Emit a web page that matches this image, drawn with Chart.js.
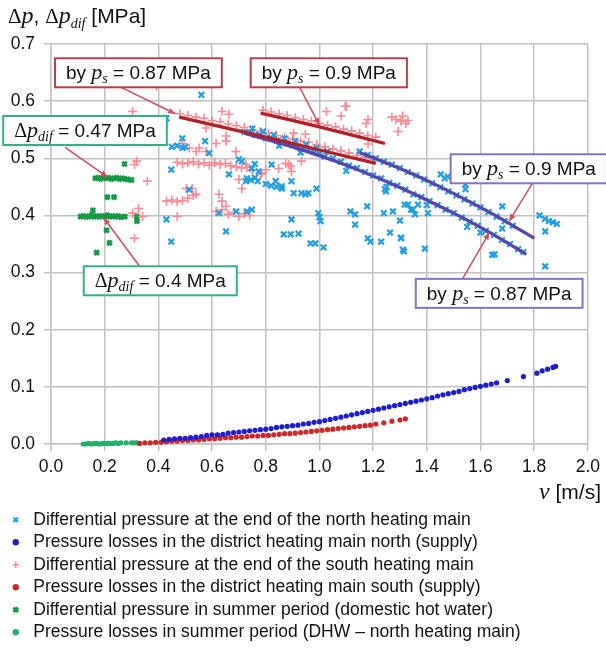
<!DOCTYPE html>
<html>
<head>
<meta charset="utf-8">
<script src="https://cdn.jsdelivr.net/npm/chart.js@4.4.1/dist/chart.umd.min.js"></script>
<style>
  html, body { margin: 0; padding: 0; background: #fff; }
  #box { width: 606px; height: 657px; }
</style>
</head>
<body>
<div id="box"><canvas id="grafico" width="606" height="657"></canvas></div>
<script>
// Datos: [v (m/s), dp (MPa)]
const xTicks = [0, 0.2, 0.4, 0.6, 0.8, 1.0, 1.2, 1.4, 1.6, 1.8, 2.0];
const yTicks = [0, 0.1, 0.2, 0.3, 0.4, 0.5, 0.6, 0.7];

const seriesNames = [
  'Differential pressure at the end of the north heating main',
  'Pressure losses in the district heating main north (supply)',
  'Differential pressure at the end of the south heating main',
  'Pressure losses in the district heating main south (supply)',
  'Differential pressure in summer period (domestic hot water)',
  'Pressure losses in summer period (DHW \u2013 north heating main)'
];

const northDp = [
  [0.56,0.611],[0.43,0.57],[0.489,0.535],[0.574,0.53],[0.45,0.52],[0.47,0.522],[0.49,0.518],[0.50,0.52],
  [0.589,0.509],[0.448,0.48],[0.70,0.498],[0.759,0.49],[0.663,0.472],[0.73,0.465],[0.745,0.462],[0.76,0.466],
  [0.77,0.46],[0.80,0.455],[0.82,0.452],[0.84,0.45],[0.86,0.447],[0.904,0.439],[0.515,0.445],[0.626,0.404],
  [0.69,0.407],[0.73,0.407],[0.748,0.41],[0.43,0.393],[0.652,0.372],[0.448,0.354],[0.896,0.393],[0.867,0.367],
  [0.893,0.367],[0.711,0.495],[0.748,0.482],[0.774,0.477],[0.822,0.489],[0.726,0.46],[0.837,0.46],[0.859,0.451],
  [0.896,0.46],[0.933,0.439],[0.959,0.439],[0.989,0.447],[0.948,0.437],[0.922,0.368],[0.967,0.351],[0.985,0.351],
  [1.015,0.344],[0.996,0.404],[1.0,0.397],[1.004,0.39],[1.115,0.407],[1.133,0.402],[1.133,0.384],[1.178,0.416],
  [1.18,0.36],[1.19,0.354],[1.24,0.404],[1.274,0.407],[1.3,0.391],[1.23,0.354],[1.263,0.37],[1.304,0.361],
  [1.315,0.337],[1.248,0.442],[1.318,0.419],[1.341,0.41],[1.244,0.446],[1.467,0.465],[1.544,0.454],[1.544,0.446],
  [1.33,0.419],[1.348,0.41],[1.356,0.402],[1.367,0.419],[1.304,0.36],[1.311,0.34],[1.393,0.342],[1.404,0.404],
  [1.681,0.416],[1.681,0.377],[1.652,0.332],[1.82,0.40],[1.84,0.394],[1.855,0.39],[1.87,0.388],[1.885,0.385],
  [1.841,0.372],[1.841,0.311],[1.644,0.331],[1.452,0.472],[1.478,0.468],
  // banda inferior
  [0.72,0.546],[0.74,0.545],[0.76,0.541],[0.78,0.54],[0.80,0.535],[0.82,0.536],[0.84,0.531],[0.86,0.53],
  [0.88,0.526],[0.90,0.523],[0.92,0.52],[0.94,0.518],[0.96,0.514],[0.98,0.511],[1.00,0.508],[1.02,0.503],
  [1.05,0.5],[1.08,0.494],[1.11,0.487],[1.14,0.483],[1.17,0.476],[1.20,0.47],[1.23,0.465],[1.26,0.457],
  [1.29,0.452],[1.32,0.445],[1.35,0.437],[1.38,0.432],[1.41,0.425],[1.44,0.418],[1.47,0.41],[1.50,0.404],
  [1.53,0.396],[1.56,0.389],[1.59,0.382],[1.62,0.373],[1.65,0.366],[1.68,0.357],[1.71,0.35],[1.74,0.341],
  [1.76,0.336],[0.75,0.552],[0.79,0.547],[0.83,0.541],[0.87,0.535],[0.91,0.53],[0.95,0.524],[0.99,0.518],
  [1.03,0.512],[0.85,0.522],[0.93,0.51],[1.1,0.478],[1.25,0.45],[1.4,0.418],[1.55,0.38],[1.6,0.37],
  // banda superior
  [1.15,0.512],[1.18,0.506],[1.21,0.5],[1.24,0.494],[1.27,0.489],[1.3,0.483],[1.33,0.476],[1.36,0.47],
  [1.39,0.463],[1.42,0.456],[1.45,0.449],[1.48,0.442],[1.51,0.435],[1.54,0.428],[1.57,0.421],[1.6,0.414],
  [1.63,0.406],[1.66,0.398],[1.69,0.39],[1.72,0.382]
];

const northLoss = [
  [0.42,0.007],[0.44,0.008],[0.46,0.009],[0.48,0.010],[0.50,0.010],[0.52,0.011],[0.54,0.012],[0.56,0.013],
  [0.58,0.015],[0.60,0.016],[0.62,0.016],[0.64,0.017],[0.66,0.019],[0.68,0.020],[0.70,0.021],[0.72,0.022],
  [0.74,0.023],[0.76,0.024],[0.78,0.025],[0.80,0.026],[0.82,0.027],[0.84,0.029],[0.86,0.030],[0.88,0.031],
  [0.90,0.032],[0.92,0.033],[0.94,0.035],[0.96,0.036],[0.98,0.038],[1.00,0.039],[1.02,0.041],[1.04,0.043],
  [1.06,0.045],[1.08,0.047],[1.10,0.049],[1.12,0.051],[1.14,0.053],[1.16,0.055],[1.18,0.057],[1.20,0.059],
  [1.22,0.061],[1.24,0.063],[1.26,0.065],[1.28,0.067],[1.30,0.069],[1.32,0.071],[1.34,0.073],[1.36,0.075],
  [1.38,0.077],[1.40,0.079],[1.42,0.081],[1.44,0.084],[1.46,0.086],[1.48,0.088],[1.50,0.090],[1.52,0.092],
  [1.54,0.095],[1.56,0.097],[1.58,0.099],[1.60,0.101],[1.62,0.103],[1.64,0.105],[1.66,0.107],[1.70,0.111],
  [1.76,0.118],[1.81,0.124],[1.83,0.128],[1.85,0.131],[1.87,0.134],[1.88,0.136]
];

const southDp = [
  [0.393,0.626],[0.304,0.582],[0.637,0.582],[0.663,0.577],[0.652,0.539],[0.652,0.53],[0.489,0.526],[0.552,0.518],
  [0.578,0.512],[0.515,0.518],[0.541,0.512],[0.615,0.526],[0.578,0.553],[0.689,0.512],
  [0.47,0.493],[0.49,0.49],[0.51,0.492],[0.53,0.494],[0.55,0.49],[0.57,0.492],[0.59,0.488],[0.61,0.492],
  [0.63,0.489],[0.65,0.491],[0.67,0.487],[0.69,0.485],[0.71,0.483],[0.73,0.484],[0.75,0.48],
  [0.311,0.489],[0.319,0.495],[0.359,0.46],[0.70,0.463],[0.711,0.447],[0.781,0.472],[0.80,0.48],[0.848,0.482],
  [0.885,0.489],[0.504,0.447],[0.526,0.447],
  [0.43,0.425],[0.45,0.427],[0.47,0.424],[0.49,0.426],[0.51,0.43],[0.53,0.435],[0.54,0.437],[0.637,0.425],[0.626,0.437],
  [0.615,0.407],[0.637,0.41],[0.652,0.416],[0.66,0.402],[0.68,0.405],[0.70,0.398],[0.72,0.403],[0.74,0.4],
  [0.304,0.404],[0.326,0.412],[0.341,0.398],[0.47,0.398],[0.311,0.36],
  [1.096,0.591],[1.026,0.582],[1.081,0.574],[1.1,0.591],[1.174,0.561],[1.181,0.568],[1.304,0.565],[1.322,0.561],
  [1.293,0.547],[1.285,0.568],[1.27,0.572],[1.31,0.574],[1.33,0.566],[1.181,0.525],[0.948,0.542],[0.904,0.544],
  [0.893,0.486],[0.896,0.477],[0.933,0.495],[0.874,0.491],[0.785,0.474],[0.726,0.489],
  // junto a la recta 0.87
  [0.48,0.578],[0.51,0.575],[0.54,0.572],[0.57,0.57],[0.6,0.566],[0.63,0.564],[0.66,0.56],[0.69,0.557],
  [0.72,0.554],[0.75,0.55],[0.78,0.547],[0.81,0.544],[0.84,0.54],[0.87,0.537],[0.9,0.534],[0.93,0.53],
  [0.96,0.528],[0.99,0.524],[1.02,0.52],[1.05,0.516],[1.08,0.513],[1.11,0.509],[1.14,0.505],[1.17,0.502],[1.2,0.498],
  // junto a la recta 0.9
  [0.79,0.584],[0.82,0.581],[0.85,0.578],[0.88,0.575],[0.91,0.571],[0.94,0.568],[0.97,0.565],[1.0,0.561],
  [1.03,0.558],[1.06,0.555],[1.09,0.551],[1.12,0.548],[1.15,0.544],[1.18,0.54],[1.21,0.537]
];

const southLoss = [
  [0.33,0.001],[0.35,0.002],[0.37,0.002],[0.39,0.003],[0.41,0.003],[0.43,0.004],[0.45,0.005],[0.47,0.005],
  [0.49,0.006],[0.51,0.006],[0.53,0.007],[0.55,0.007],[0.57,0.008],[0.59,0.009],[0.61,0.009],[0.63,0.010],
  [0.65,0.011],[0.67,0.011],[0.69,0.012],[0.71,0.012],[0.73,0.013],[0.75,0.014],[0.77,0.014],[0.79,0.015],
  [0.81,0.015],[0.83,0.016],[0.85,0.017],[0.87,0.018],[0.89,0.018],[0.91,0.019],[0.93,0.020],[0.95,0.021],
  [0.97,0.022],[0.99,0.023],[1.01,0.024],[1.03,0.025],[1.05,0.026],[1.07,0.027],[1.09,0.028],[1.11,0.029],
  [1.13,0.030],[1.15,0.031],[1.17,0.032],[1.19,0.033],[1.21,0.035],[1.24,0.037],[1.27,0.040],[1.30,0.042],[1.32,0.044]
];

const summerDp = [
  [0.165,0.465],[0.175,0.466],[0.185,0.464],[0.195,0.466],[0.205,0.465],[0.215,0.466],[0.225,0.464],[0.235,0.465],
  [0.245,0.466],[0.255,0.464],[0.265,0.465],[0.275,0.464],[0.285,0.463],[0.3,0.462],[0.274,0.49],[0.21,0.432],[0.235,0.432],
  [0.11,0.398],[0.12,0.399],[0.13,0.398],[0.14,0.398],[0.15,0.4],[0.16,0.398],[0.17,0.399],[0.18,0.398],
  [0.19,0.399],[0.2,0.398],[0.21,0.4],[0.22,0.398],[0.23,0.399],[0.24,0.398],[0.25,0.399],[0.26,0.397],
  [0.275,0.398],[0.156,0.409],[0.32,0.39],[0.32,0.398],[0.207,0.374],[0.218,0.352],[0.17,0.335]
];

const summerLoss = [
  [0.12,0.0],[0.13,0.0],[0.14,0.001],[0.15,0.0],[0.16,0.001],[0.17,0.001],[0.18,0.0],[0.19,0.001],
  [0.2,0.001],[0.21,0.001],[0.22,0.001],[0.23,0.001],[0.24,0.002],[0.25,0.001],[0.26,0.002],[0.28,0.002],
  [0.3,0.002],[0.31,0.002],[0.32,0.002]
];

// rectas de ajuste
const lineSouth087 = [[0.478,0.572],[0.8,0.537],[1.21,0.491]];
const lineSouth09 = [[0.781,0.579],[1.0,0.555],[1.244,0.526]];
const lineNorth087 = [[0.72,0.544],[0.9,0.52],[1.1,0.488],[1.3,0.449],[1.5,0.404],[1.65,0.366],[1.77,0.332]];
const lineNorth09 = [[1.15,0.51],[1.3,0.482],[1.45,0.45],[1.6,0.414],[1.7,0.388],[1.8,0.36]];

// Fuentes
const SANS = '"Liberation Sans", Arial, sans-serif';
const SERIF = '"Liberation Serif", "Times New Roman", serif';

// Etiquetas: [x, y esquina sup izq (datos), color borde, tipo, valor]
const cajas = [
  [0.015, 0.675, '#b5404c', 'ps', '0.87'],
  [0.744, 0.675, '#b5404c', 'ps', '0.9'],
  [-0.178, 0.574, '#2fb384', 'dif', '0.47'],
  [0.122, 0.311, '#2fb384', 'dif', '0.4'],
  [1.489, 0.507, '#8474c8', 'ps', '0.9'],
  [1.359, 0.289, '#8474c8', 'ps', '0.87']
];
// Flechas: desde (x1,y1) hasta (x2,y2)
const flechas = [
  [0.244, 0.628, 0.463, 0.578],
  [0.922, 0.628, 1.0, 0.558],
  [0.052, 0.519, 0.211, 0.467],
  [0.33, 0.311, 0.196, 0.396],
  [1.793, 0.456, 1.707, 0.39],
  [1.533, 0.289, 1.633, 0.37]
];

function partes(tipo, valor) {
  if (tipo === 'ps') {
    return [
      {t: 'by ', f: '19px ' + SANS},
      {t: 'p', f: 'italic 22px ' + SERIF},
      {t: 's', f: 'italic 14px ' + SERIF, dy: 4},
      {t: ' = ' + valor + ' MPa', f: '19px ' + SANS}
    ];
  }
  return [
    {t: '\u0394', f: '20px ' + SERIF},
    {t: 'p', f: 'italic 22px ' + SERIF},
    {t: 'dif', f: 'italic 14px ' + SERIF, dy: 4},
    {t: ' = ' + valor + ' MPa', f: '19px ' + SANS}
  ];
}

function anchoTexto(ctx, ps) {
  let w = 0;
  for (const p of ps) { ctx.font = p.f; w += ctx.measureText(p.t).width; }
  return w;
}

function pintaTexto(ctx, ps, x, y) {
  for (const p of ps) {
    ctx.font = p.f;
    ctx.fillText(p.t, x, y + (p.dy || 0));
    x += ctx.measureText(p.t).width;
  }
}

const anotaciones = {
  id: 'anotaciones',
  afterDatasetsDraw(chart) {
    const ctx = chart.ctx;
    const sx = chart.scales.x, sy = chart.scales.y;
    ctx.save();
    // flechas
    ctx.strokeStyle = '#c9505c';
    ctx.fillStyle = '#c9505c';
    ctx.lineWidth = 1.5;
    for (const f of flechas) {
      const x1 = sx.getPixelForValue(f[0]), y1 = sy.getPixelForValue(f[1]);
      const x2 = sx.getPixelForValue(f[2]), y2 = sy.getPixelForValue(f[3]);
      ctx.beginPath(); ctx.moveTo(x1, y1); ctx.lineTo(x2, y2); ctx.stroke();
      const ang = Math.atan2(y2 - y1, x2 - x1);
      ctx.beginPath();
      ctx.moveTo(x2, y2);
      ctx.lineTo(x2 - 7 * Math.cos(ang) + 3 * Math.sin(ang), y2 - 7 * Math.sin(ang) - 3 * Math.cos(ang));
      ctx.lineTo(x2 - 7 * Math.cos(ang) - 3 * Math.sin(ang), y2 - 7 * Math.sin(ang) + 3 * Math.cos(ang));
      ctx.closePath(); ctx.fill();
    }
    // cajas
    ctx.textBaseline = 'alphabetic';
    ctx.textAlign = 'left';
    for (const c of cajas) {
      const ps = partes(c[3], c[4]);
      const x = sx.getPixelForValue(c[0]), y = sy.getPixelForValue(c[1]);
      const w = anchoTexto(ctx, ps) + 22, h = 29;
      ctx.fillStyle = '#fff';
      ctx.fillRect(x, y, w, h);
      ctx.strokeStyle = c[2];
      ctx.lineWidth = 2;
      ctx.strokeRect(x, y, w, h);
      ctx.fillStyle = '#111';
      pintaTexto(ctx, ps, x + 11, y + 21);
    }
    ctx.restore();
  },
  afterDraw(chart) {
    const ctx = chart.ctx;
    ctx.save();
    ctx.fillStyle = '#111';
    ctx.textBaseline = 'alphabetic';
    ctx.textAlign = 'left';
    // titulo eje y
    pintaTexto(ctx, [
      {t: '\u0394', f: '21px ' + SERIF},
      {t: 'p', f: 'italic 24px ' + SERIF},
      {t: ', ', f: '21px ' + SANS},
      {t: '\u0394', f: '21px ' + SERIF},
      {t: 'p', f: 'italic 24px ' + SERIF},
      {t: 'dif', f: 'italic 14px ' + SERIF, dy: 5},
      {t: ' [MPa]', f: '21px ' + SANS}
    ], 8, 23);
    // titulo eje x
    const px = [
      {t: 'v', f: 'italic 24px ' + SERIF},
      {t: ' [m/s]', f: '21px ' + SANS}
    ];
    pintaTexto(ctx, px, 601 - anchoTexto(ctx, px), 499);
    ctx.restore();
  }
};

function aPuntos(arr) { return arr.map(p => ({x: p[0], y: p[1]})); }

const colores = ['#1f9fe4', '#1c1cd6', '#ff8893', '#d02626', '#119c44', '#22b06a'];
const estilos = ['crossRot', 'circle', 'cross', 'circle', 'crossRot', 'circle'];
const radios = [4, 2.6, 4.5, 2.6, 3.2, 2.6];
const bordes = [2.2, 0, 1.6, 0, 3, 0];
const series = [northDp, northLoss, southDp, southLoss, summerDp, summerLoss];

const datasets = series.map((s, i) => ({
  label: seriesNames[i],
  data: aPuntos(s),
  pointStyle: estilos[i],
  pointRadius: radios[i],
  pointHoverRadius: radios[i],
  borderColor: colores[i],
  backgroundColor: colores[i],
  borderWidth: bordes[i] || 1,
  pointBorderWidth: bordes[i] || 0,
  showLine: false,
  clip: false,
  order: 1
}));

const lineas = [
  [lineSouth087, '#b81c24'],
  [lineSouth09, '#b81c24'],
  [lineNorth087, '#5844b0'],
  [lineNorth09, '#5844b0']
];
lineas.forEach(l => {
  datasets.push({
    label: 'linea',
    data: aPuntos(l[0]),
    showLine: true,
    borderColor: l[1],
    borderWidth: 3.2,
    pointRadius: 0,
    pointHoverRadius: 0,
    tension: 0.3,
    fill: false,
    order: 0
  });
});

const ejeGrid = {
  color: '#c2c2c2',
  lineWidth: 1.5,
  tickLength: 7,
  drawTicks: true
};

new Chart(document.getElementById('grafico'), {
  type: 'scatter',
  data: { datasets: datasets },
  options: {
    responsive: false,
    animation: false,
    devicePixelRatio: 1,
    layout: { padding: { left: 2, right: 15, top: 44, bottom: 6 } },
    scales: {
      x: {
        type: 'linear',
        min: xTicks[0],
        max: xTicks[xTicks.length - 1],
        afterBuildTicks: s => { s.ticks = xTicks.map(v => ({value: v})); },
        afterFit: s => { s.height = 62; },
        grid: ejeGrid,
        border: { color: '#c2c2c2', width: 1.5 },
        ticks: {
          padding: 6,
          color: '#111',
          font: { family: SANS, size: 17.5 },
          callback: v => Number(v).toFixed(1)
        }
      },
      y: {
        type: 'linear',
        min: yTicks[0],
        max: yTicks[yTicks.length - 1],
        afterBuildTicks: s => { s.ticks = yTicks.map(v => ({value: v})); },
        afterFit: s => { s.width = 49; },
        grid: ejeGrid,
        border: { color: '#c2c2c2', width: 1.5 },
        ticks: {
          padding: 9,
          color: '#111',
          font: { family: SANS, size: 17.5 },
          callback: v => Number(v).toFixed(1)
        }
      }
    },
    plugins: {
      tooltip: { enabled: false },
      legend: {
        position: 'bottom',
        align: 'start',
        maxHeight: 158,
        labels: {
          usePointStyle: true,
          boxHeight: 4.5,
          boxWidth: 18,
          padding: 5,
          color: '#111',
          font: { family: SANS, size: 17.5 },
          filter: item => item.datasetIndex < 6
        }
      }
    }
  },
  plugins: [anotaciones]
});
</script>
</body>
</html>
